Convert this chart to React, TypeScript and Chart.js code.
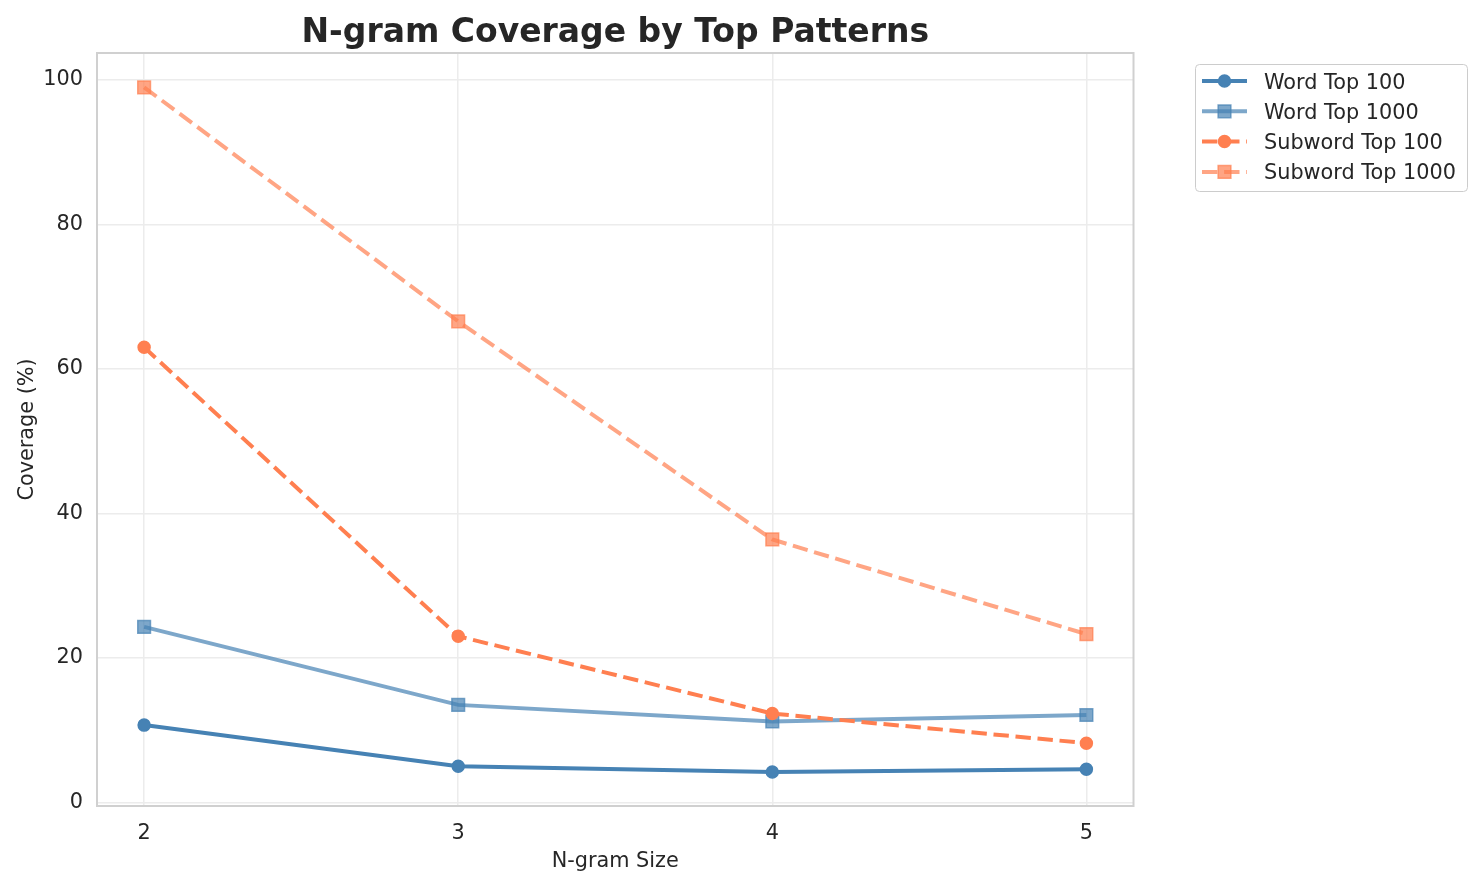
import { useEffect, useRef } from "react";
import { Chart, registerables } from "chart.js";

Chart.register(...registerables);

// ---- data ----
const ngramSizes = [2, 3, 4, 5];
const wordTop100 = [10.7, 5.0, 4.2, 4.6];
const wordTop1000 = [24.3, 13.5, 11.2, 12.1];
const subwordTop100 = [63.0, 23.0, 12.3, 8.2];
const subwordTop1000 = [99.0, 66.6, 36.4, 23.3];
const yTickValues = [0, 20, 40, 60, 80, 100];
const seriesNames = ["Word Top 100", "Word Top 1000", "Subword Top 100", "Subword Top 1000"];
const chartTitle = "N-gram Coverage by Top Patterns";
const xAxisTitle = "N-gram Size";
const yAxisTitle = "Coverage (%)";

// ---- styles ----
const FONT = "'DejaVu Sans', 'Liberation Sans', sans-serif";
const TEXT = "#262626";
const DASH = [15.4, 6.7];
const seriesStyles = [
  { color: "rgb(70,130,180)", point: "circle", radius: 6, dash: [] as number[] },
  { color: "rgba(70,130,180,0.7)", point: "rect", radius: 9, dash: [] as number[] },
  { color: "rgb(255,127,80)", point: "circle", radius: 6, dash: DASH },
  { color: "rgba(255,127,80,0.7)", point: "rect", radius: 9, dash: DASH },
];
const seriesValues = [wordTop100, wordTop1000, subwordTop100, subwordTop1000];

const W = 1478;
const H = 885;

const decorPlugin = {
  id: "decor",
  afterDraw(chart: any) {
    const ctx = chart.ctx as CanvasRenderingContext2D;
    const a = chart.chartArea;
    ctx.save();
    // frame (spines)
    ctx.strokeStyle = "#d0d0d0";
    ctx.lineWidth = 2;
    ctx.setLineDash([]);
    ctx.strokeRect(a.left, a.top, a.right - a.left, a.bottom - a.top);

    // title
    ctx.fillStyle = TEXT;
    ctx.textAlign = "center";
    ctx.textBaseline = "alphabetic";
    ctx.font = `bold 33px ${FONT}`;
    ctx.fillText(chartTitle, (a.left + a.right) / 2, 42);

    // x axis title
    ctx.font = `20.8px ${FONT}`;
    ctx.fillText(xAxisTitle, (a.left + a.right) / 2, 867);

    // y axis title
    ctx.save();
    ctx.translate(33, (a.top + a.bottom) / 2);
    ctx.rotate(-Math.PI / 2);
    ctx.fillText(yAxisTitle, 0, 0);
    ctx.restore();

    // legend
    const bx = 1195.5, by = 64.5, bw = 272, bh = 127;
    ctx.beginPath();
    (ctx as any).roundRect(bx, by, bw, bh, 4);
    ctx.fillStyle = "rgba(255,255,255,0.8)";
    ctx.fill();
    ctx.strokeStyle = "#cccccc";
    ctx.lineWidth = 1;
    ctx.stroke();

    seriesNames.forEach((name, i) => {
      const st = seriesStyles[i];
      const cy = 81 + i * 30.3;
      const x0 = 1202, x1 = 1247, cx = (x0 + x1) / 2;
      ctx.strokeStyle = st.color;
      ctx.lineWidth = 4;
      ctx.lineCap = "butt";
      ctx.setLineDash(st.dash);
      ctx.beginPath();
      ctx.moveTo(x0, cy);
      ctx.lineTo(x1, cy);
      ctx.stroke();
      ctx.setLineDash([]);
      ctx.fillStyle = st.color;
      ctx.lineWidth = 1.5;
      ctx.beginPath();
      if (st.point === "circle") {
        ctx.arc(cx, cy, st.radius, 0, Math.PI * 2);
      } else {
        const s = st.radius * Math.SQRT1_2;
        ctx.rect(cx - s, cy - s, 2 * s, 2 * s);
      }
      ctx.fill();
      ctx.stroke();

      ctx.fillStyle = TEXT;
      ctx.textAlign = "left";
      ctx.textBaseline = "alphabetic";
      ctx.font = `20.8px ${FONT}`;
      ctx.fillText(name, 1264, cy + 7.5);
    });
    ctx.restore();
  },
};

export default function App() {
  const ref = useRef<HTMLCanvasElement | null>(null);

  useEffect(() => {
    if (!ref.current) return;
    const datasets = seriesNames.map((name, i) => {
      const st = seriesStyles[i];
      return {
        label: name,
        data: ngramSizes.map((x, j) => ({ x, y: seriesValues[i][j] })),
        borderColor: st.color,
        backgroundColor: st.color,
        borderWidth: 4,
        borderDash: st.dash,
        pointStyle: st.point,
        pointRadius: st.radius,
        pointBackgroundColor: st.color,
        pointBorderColor: st.color,
        pointBorderWidth: 1.5,
        tension: 0,
        fill: false,
        order: seriesNames.length - i,
      };
    });

    const chart = new Chart(ref.current, {
      type: "line",
      data: { datasets } as any,
      plugins: [decorPlugin],
      options: {
        animation: false,
        responsive: false,
        maintainAspectRatio: false,
        devicePixelRatio: 1,
        layout: { padding: { top: 53, right: 344.5, left: 0, bottom: 0 } },
        plugins: {
          legend: { display: false },
          title: { display: false },
          tooltip: { enabled: false },
        },
        scales: {
          x: {
            type: "linear",
            min: 1.85,
            max: 5.15,
            afterBuildTicks: (scale: any) => {
              scale.ticks = ngramSizes.map((v) => ({ value: v }));
            },
            afterFit: (scale: any) => {
              scale.height = 79;
            },
            ticks: {
              callback: (v: any) => String(v),
              font: { family: FONT, size: 20.8 },
              color: TEXT,
              padding: 15,
              maxRotation: 0,
            },
            grid: {
              color: "#ececec",
              lineWidth: 1.5,
              drawTicks: false,
            },
            border: { display: false },
          },
          y: {
            type: "linear",
            min: -0.5,
            max: 103.75,
            afterBuildTicks: (scale: any) => {
              scale.ticks = yTickValues.map((v) => ({ value: v }));
            },
            afterFit: (scale: any) => {
              scale.width = 97;
            },
            ticks: {
              callback: (v: any) => String(v),
              font: { family: FONT, size: 20.8 },
              color: TEXT,
              padding: 14,
            },
            grid: {
              color: "#ececec",
              lineWidth: 1.5,
              drawTicks: false,
            },
            border: { display: false },
          },
        },
      } as any,
    });
    return () => chart.destroy();
  }, []);

  return (
    <div style={{ position: "fixed", left: 0, top: 0, width: W, height: H, background: "#fff" }}>
      <canvas ref={ref} width={W} height={H} style={{ width: W, height: H, display: "block" }} />
    </div>
  );
}
